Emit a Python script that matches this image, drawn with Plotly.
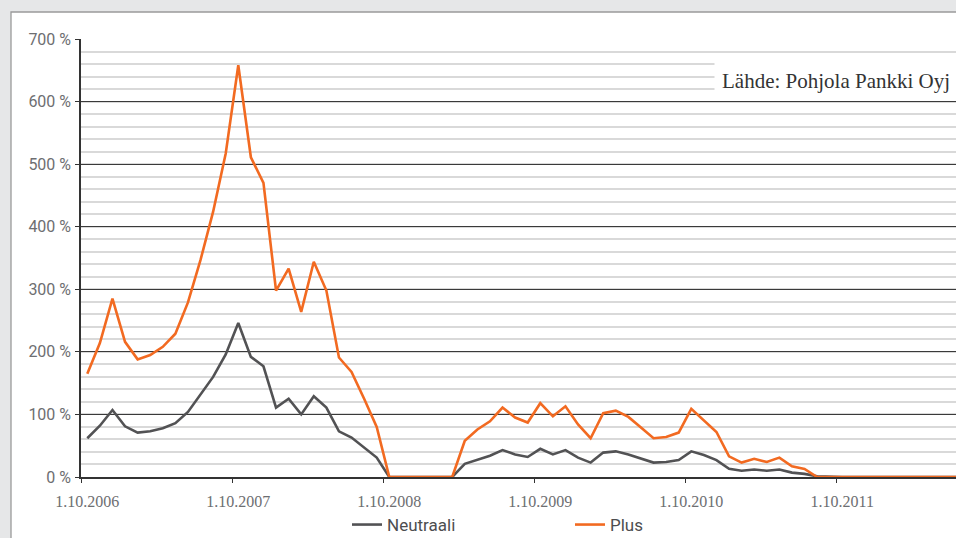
import plotly.graph_objects as go

# ---- data ----
months = [f"1.{m}.{y}" for y, m in
          [(2006, 10), (2006, 11), (2006, 12)] +
          [(y, m) for y in range(2007, 2012) for m in range(1, 13)] +
          [(2012, m) for m in range(1, 9)]]

year_ticks = ["1.10.2006", "1.10.2007", "1.10.2008", "1.10.2009", "1.10.2010", "1.10.2011"]

neutraali = [62, 82, 107, 81, 71, 73, 78, 86, 104, 131, 160, 196,
             246, 192, 177, 111, 125, 100, 129, 111, 73, 63, 47, 31,
             0, 0, 0, 0, 0, 0, 21, 28, 34, 43, 36, 32,
             45, 36, 43, 31, 23, 39, 41, 36, 29, 23, 24, 27,
             41, 35, 27, 13, 10, 12, 10, 12, 7, 5, 1, 0,
             0, 0, 0, 0, 0, 0, 0, 0, 0, 0, 0]

plus = [165, 214, 285, 216, 188, 195, 208, 229, 279, 347, 424, 517,
        658, 511, 470, 298, 333, 264, 344, 298, 191, 168, 125, 80,
        0, 0, 0, 0, 0, 0, 58, 76, 89, 111, 95, 87,
        118, 97, 113, 84, 62, 102, 106, 96, 79, 62, 64, 71,
        109, 91, 72, 33, 23, 29, 24, 31, 17, 13, 0, 0,
        0, 0, 0, 0, 0, 0, 0, 0, 0, 0, 0]

y_ticks = [0, 100, 200, 300, 400, 500, 600, 700]
y_labels = ["0 %", "100 %", "200 %", "300 %", "400 %", "500 %", "600 %", "700 %"]

source_text = "Lähde: Pohjola Pankki Oyj"

# ---- layout geometry ----
W, H = 956, 538
L, R, T, B = 81, 0, 39, 61
PW, PH = W - L - R, H - T - B
PX_PER_MONTH = 755 / 60.0
x_end = -0.5 + PW / PX_PER_MONTH

def px_x(p):
    return (p - L) / PW

def px_y(p):
    return (H - B - p) / PH

SANS = "Roboto, Liberation Sans, sans-serif"
SERIF = "Liberation Serif, DejaVu Serif, serif"

fig = go.Figure()
fig.add_trace(go.Scatter(x=months, y=neutraali, mode="lines", name="Neutraali",
                         line=dict(color="#525254", width=2.6)))
fig.add_trace(go.Scatter(x=months, y=plus, mode="lines", name="Plus",
                         line=dict(color="#f26a21", width=2.6)))

# invisible helper trace for the boundary tick axis
fig.add_trace(go.Scatter(x=[0], y=[0], xaxis="x2", mode="markers",
                         marker=dict(opacity=0), showlegend=False, hoverinfo="skip"))

fig.update_layout(
    width=W, height=H,
    margin=dict(l=L, r=R, t=T, b=B, autoexpand=False),
    paper_bgcolor="#e6e7e8",
    plot_bgcolor="white",
    xaxis=dict(
        type="category", categoryorder="array", categoryarray=months,
        range=[-0.5, x_end], automargin=False,
        tickmode="array", tickvals=year_ticks, ticktext=year_ticks,
        ticks="", showgrid=False, zeroline=False,
        showline=True, linecolor="#333333", linewidth=1.5,
        tickfont=dict(family=SERIF, size=16, color="#6d6e71"),
        ticklabelstandoff=9,
    ),
    xaxis2=dict(
        overlaying="x", anchor="y", side="bottom", type="linear",
        range=[-0.5, x_end], automargin=False,
        tickmode="array", tickvals=[-0.5 + 12 * k for k in range(7)],
        ticks="outside", ticklen=5, tickcolor="#333333", tickwidth=1.3,
        showticklabels=False, showgrid=False, zeroline=False, showline=False,
    ),
    yaxis=dict(
        range=[0, 700], automargin=False,
        tickmode="array", tickvals=y_ticks, ticktext=y_labels,
        ticks="outside", ticklen=4, tickcolor="#333333", tickwidth=1.3,
        showline=True, linecolor="#333333", linewidth=1.5,
        showgrid=True, gridcolor="#3a3a3a", gridwidth=1.2,
        zeroline=False,
        minor=dict(tickmode="linear", tick0=0, dtick=20, showgrid=True,
                   gridcolor="#d9d9d9", gridwidth=1.6, ticks=""),
        tickfont=dict(family=SANS, size=16, color="#6d6e71"),
        ticklabelstandoff=1,
    ),
    legend=dict(
        orientation="h", x=px_x(347), xanchor="left",
        y=px_y(525), yanchor="middle",
        font=dict(family=SANS, size=17, color="#4d4d4f"),
        bgcolor="rgba(0,0,0,0)", entrywidth=178, entrywidthmode="pixels",
    ),
    shapes=[dict(type="rect", xref="paper", yref="paper", layer="below",
                 x0=px_x(11), x1=px_x(990), y0=px_y(580), y1=px_y(12),
                 fillcolor="white", line=dict(color="#9a9a9a", width=1.3))],
    annotations=[dict(text=source_text, xref="paper", yref="paper",
                      x=px_x(714), y=px_y(81), xanchor="left", yanchor="middle",
                      showarrow=False, bgcolor="white", borderpad=7,
                      font=dict(family=SERIF, size=21, color="#333333"))],
)

fig.write_html("out.html",
               config={"displayModeBar": False},
               post_script="document.body.style.margin='0';document.body.style.overflow='hidden';")
